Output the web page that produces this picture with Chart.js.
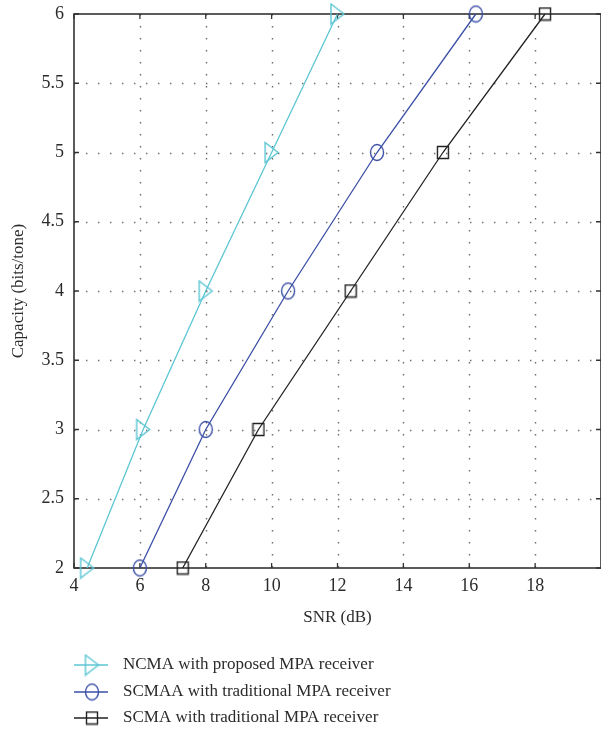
<!DOCTYPE html>
<html>
<head>
<meta charset="utf-8">
<script src="https://cdn.jsdelivr.net/npm/chart.js@4.4.1/dist/chart.umd.min.js"></script>
<style>
  html, body { margin: 0; padding: 0; background: #ffffff; }
  #c { display: block; }
</style>
</head>
<body>
<canvas id="c" width="601" height="729"></canvas>
<script>
// Capacity levels (bits/tone) and the SNR (dB) each scheme needs to reach them
const capacity = [2, 3, 4, 5, 6];
const snrNcma = [4.4, 6.1, 8.0, 10.0, 12.0];
const snrScmaa = [6.0, 8.0, 10.5, 13.2, 16.2];
const snrScma = [7.3, 9.6, 12.4, 15.2, 18.3];

const seriesNames = [
  'NCMA with proposed MPA receiver',
  'SCMAA with traditional MPA receiver',
  'SCMA with traditional MPA receiver'
];
const xTickValues = [4, 6, 8, 10, 12, 14, 16, 18];
const yTickValues = [2, 2.5, 3, 3.5, 4, 4.5, 5, 5.5, 6];

const FONT = '"Liberation Serif", "DejaVu Serif", serif';
const TEXT = '#2b2b2b';
const C_NCMA = '#5cc6d3';
const C_SCMAA = '#3b4fa6';
const C_SCMA = '#222222';

// Hollow marker sprites, used both on the lines and in the legend
function sprite(w, h, color, draw) {
  const cv = document.createElement('canvas');
  cv.width = w; cv.height = h;
  const g = cv.getContext('2d');
  g.strokeStyle = color;
  g.lineWidth = 1.4;
  g.beginPath();
  draw(g, w, h);
  g.stroke();
  return cv;
}
const triRight = sprite(17, 23, C_NCMA, (g, w, h) => {
  g.moveTo(2, 1.5); g.lineTo(w - 2, h / 2); g.lineTo(2, h - 1.5); g.closePath();
});
const ellipse = sprite(16, 19, C_SCMAA, (g, w, h) => {
  g.ellipse(w / 2, h / 2, w / 2 - 1.5, h / 2 - 1.5, 0, 0, Math.PI * 2);
});
const square = sprite(14, 15, C_SCMA, (g, w, h) => {
  g.rect(1.5, 1.5, w - 3, h - 3);
});

function pts(xs) { return xs.map((x, i) => ({ x: x, y: capacity[i] })); }

// Dotted grid, boxed frame and inward tick marks
const frame = {
  id: 'frame',
  beforeDatasetsDraw(chart) {
    const { ctx, chartArea: a, scales: { x, y } } = chart;
    ctx.save();
    ctx.strokeStyle = '#6a6a6a';
    ctx.lineWidth = 1.4;
    ctx.setLineDash([1.4, 10.6]);
    xTickValues.slice(1).forEach(v => {
      const px = Math.round(x.getPixelForValue(v)) + 0.5;
      ctx.beginPath(); ctx.moveTo(px, a.top); ctx.lineTo(px, a.bottom); ctx.stroke();
    });
    yTickValues.slice(1, -1).forEach(v => {
      const py = Math.round(y.getPixelForValue(v)) + 0.5;
      ctx.beginPath(); ctx.moveTo(a.left, py); ctx.lineTo(a.right, py); ctx.stroke();
    });
    ctx.setLineDash([]);
    ctx.strokeStyle = '#333333';
    ctx.lineWidth = 1.6;
    ctx.strokeRect(a.left, a.top, a.right - a.left, a.bottom - a.top);
    const t = 5;
    ctx.lineWidth = 1.3;
    xTickValues.forEach(v => {
      const px = x.getPixelForValue(v);
      ctx.beginPath();
      ctx.moveTo(px, a.bottom); ctx.lineTo(px, a.bottom - t);
      ctx.moveTo(px, a.top); ctx.lineTo(px, a.top + t);
      ctx.stroke();
    });
    yTickValues.forEach(v => {
      const py = y.getPixelForValue(v);
      ctx.beginPath();
      ctx.moveTo(a.left, py); ctx.lineTo(a.left + t, py);
      ctx.moveTo(a.right, py); ctx.lineTo(a.right - t, py);
      ctx.stroke();
    });
    ctx.restore();
  },
  afterDraw(chart) {
    // Legend below the axes
    const { ctx } = chart;
    const rows = [665, 692, 718];
    ctx.save();
    chart.data.datasets.forEach((ds, i) => {
      const yy = rows[i];
      ctx.strokeStyle = ds.borderColor;
      ctx.lineWidth = 1.3;
      ctx.beginPath(); ctx.moveTo(74, yy); ctx.lineTo(108, yy); ctx.stroke();
      const img = ds.pointStyle;
      ctx.drawImage(img, 92 - img.width / 2, yy - img.height / 2);
      ctx.fillStyle = TEXT;
      ctx.font = '17px ' + FONT;
      ctx.textBaseline = 'middle';
      ctx.textAlign = 'left';
      ctx.fillText(ds.label, 123, yy);
    });
    ctx.restore();
  }
};

function noOverflow(s) {
  s.paddingTop = 0; s.paddingBottom = 0; s.paddingLeft = 0; s.paddingRight = 0;
}

new Chart(document.getElementById('c'), {
  type: 'line',
  data: {
    datasets: [
      { label: seriesNames[0], data: pts(snrNcma), borderColor: C_NCMA, pointStyle: triRight },
      { label: seriesNames[1], data: pts(snrScmaa), borderColor: C_SCMAA, pointStyle: ellipse },
      { label: seriesNames[2], data: pts(snrScma), borderColor: C_SCMA, pointStyle: square }
    ].map(d => Object.assign(d, {
      borderWidth: 1.3, tension: 0, fill: false, clip: false,
      pointRadius: 8, pointHoverRadius: 8, backgroundColor: 'transparent'
    }))
  },
  options: {
    responsive: false,
    animation: false,
    events: [],
    layout: { autoPadding: false, padding: { top: 14, right: -1, left: 0, bottom: 101 } },
    plugins: { legend: { display: false }, tooltip: { enabled: false } },
    scales: {
      x: {
        type: 'linear', min: 4, max: 20,
        afterBuildTicks: s => { s.ticks = xTickValues.concat([20]).map(v => ({ value: v })); },
        afterFit: s => { s.height = 60; noOverflow(s); },
        grid: { display: false, drawTicks: false },
        border: { display: false },
        ticks: {
          padding: 7, color: TEXT, font: { family: FONT, size: 18 },
          maxRotation: 0, autoSkip: false,
          callback: v => (v === 20 ? '' : String(v))
        },
        title: { display: true, text: 'SNR (dB)', color: TEXT, font: { family: FONT, size: 17 }, padding: 0 }
      },
      y: {
        type: 'linear', min: 2, max: 6,
        afterBuildTicks: s => { s.ticks = yTickValues.map(v => ({ value: v })); },
        afterFit: s => { s.width = 74; noOverflow(s); },
        grid: { display: false, drawTicks: false },
        border: { display: false },
        ticks: {
          padding: 10, color: TEXT, font: { family: FONT, size: 18 }, autoSkip: false,
          callback: v => String(v)
        },
        title: { display: true, text: 'Capacity (bits/tone)', color: TEXT, font: { family: FONT, size: 17 }, padding: { top: 8, bottom: 0 } }
      }
    }
  },
  plugins: [frame]
});
</script>
</body>
</html>
